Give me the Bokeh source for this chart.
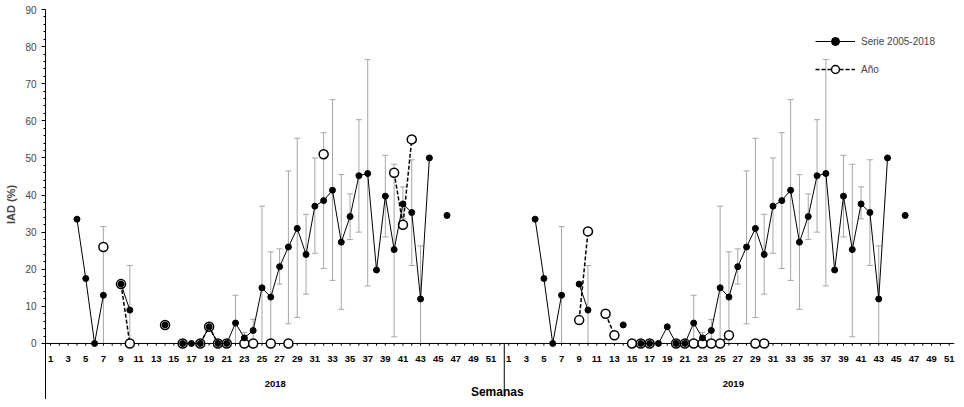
import numpy as np
from bokeh.plotting import figure
from bokeh.models import ColumnDataSource, Whisker, TeeHead, FixedTicker, Legend, LegendItem
from bokeh.core.properties import value
from bokeh.embed import file_html
from bokeh.resources import INLINE

weeks = list(range(1, 53))
# Serie 2005-2018 (mean) by week; missing = no data
serie = {4:33.5,5:17.5,6:0,7:13,9:16,10:9,14:5,16:0,17:0,18:0,19:4.5,20:0,21:0,22:5.5,
         23:1.5,24:3.5,25:15,26:12.5,27:20.7,28:26,29:31,30:24,31:37,32:38.5,33:41.3,
         34:27.3,35:34.2,36:45.2,37:45.8,38:19.8,39:39.7,40:25.3,41:37.6,42:35.3,43:12,
         44:50,46:34.5}
err_low = {7:0,10:0,22:0,23:0,24:0,25:0,26:0,27:16,28:5.3,29:7,30:13.3,31:24.3,32:20.2,
           33:17,34:9.2,35:28,36:30,37:15.5,39:28.7,40:1.8,41:33.6,42:21,43:0}
err_high = {7:31.5,10:21,22:13,23:3,24:6.5,25:37,26:24.7,27:25.5,28:46.5,29:55.3,30:34.8,
            31:50,32:56.8,33:65.7,34:45.5,35:40.3,36:60.3,37:76.5,39:50.7,40:48.3,41:42.2,
            42:49.5,43:26.3}
ano2018 = {7:26,9:16,10:0,14:5,16:0,18:0,19:4.5,20:0,21:0,23:0,24:0,26:0,28:0,32:51,
           40:46,41:32,42:55}
ano2019 = {9:6.3,10:30.2,12:8,13:2.2,15:0,16:0,17:0,20:0,21:0,22:0,23:0,24:0,25:0,26:2.2,
           29:0,30:0}
years = ["2018", "2019"]

def arr(d):
    return np.array([d.get(w, np.nan) for w in weeks], dtype=float)

xs = np.arange(1, 105, dtype=float)
s = arr(serie)
serie_y = np.concatenate([s, s])
a_y = np.concatenate([arr(ano2018), arr(ano2019)])
lo = np.concatenate([arr(err_low)] * 2)
hi = np.concatenate([arr(err_high)] * 2)

p = figure(width=956, height=399, x_range=(0.43, 103.6), y_range=(-15.1, 90),
           output_backend="svg", toolbar_location=None,
           min_border_left=45, min_border_right=2, min_border_top=9, min_border_bottom=0)
p.xaxis.visible = False
p.xgrid.visible = False
p.ygrid.visible = False
p.outline_line_color = None
p.background_fill_color = "white"

ya = p.yaxis[0]
ya.ticker = FixedTicker(ticks=list(range(0, 91, 10)), minor_ticks=list(range(0, 91, 2)))
ya.axis_label = "IAD (%)"
ya.axis_label_text_font = "Liberation Sans"
ya.axis_label_text_font_style = "bold"
ya.axis_label_text_font_size = "11px"
ya.major_label_text_font = "Liberation Sans"
ya.major_label_text_font_size = "10px"
ya.major_tick_in = 0
ya.major_tick_out = 4
ya.minor_tick_in = 0
ya.minor_tick_out = 2
ya.axis_line_color = "black"

# x axis built inside frame
p.segment(x0=[0.43], y0=[0], x1=[103.6], y1=[0], color="black", line_width=1)
p.segment(x0=xs, y0=np.zeros(104), x1=xs, y1=np.full(104, -0.6), color="black")
p.segment(x0=[52.5], y0=[0], x1=[52.5], y1=[-14.3], color="black")
labx = [x for x in xs if int(x - 1) % 52 % 2 == 0 and (int(x - 1) % 52) < 51]
labt = [str(int(x - 1) % 52 + 1) for x in labx]
p.text(x=labx, y=[-4.3] * len(labx), text=labt, text_align="center", text_baseline="middle",
       text_font=value("Liberation Sans"), text_font_style="bold", text_font_size="9.5px")
p.text(x=[26.5, 78.5], y=[-11, -11], text=years, text_align="center", text_baseline="middle",
       text_font=value("Liberation Sans"), text_font_style="bold", text_font_size="9.5px")
p.text(x=[51.7], y=[-13.2], text=["Semanas"], text_align="center", text_baseline="middle",
       text_font=value("Liberation Sans"), text_font_style="bold", text_font_size="12px")

wsrc = ColumnDataSource(dict(x=xs, lo=lo, hi=hi))
p.add_layout(Whisker(source=wsrc, base="x", lower="lo", upper="hi", line_color="#a6a6a6",
                     line_width=1,
                     lower_head=TeeHead(size=6, line_color="#a6a6a6"),
                     upper_head=TeeHead(size=6, line_color="#a6a6a6")))

al = p.line(xs, a_y, color="black", line_dash="4 2", line_width=1.5)
ac = p.scatter(xs, a_y, size=9, fill_color="white", line_color="black", line_width=1.5)
sl = p.line(xs, serie_y, color="black", line_width=1)
sc = p.scatter(xs, serie_y, size=6, color="black")

leg = Legend(items=[LegendItem(label="Serie 2005-2018", renderers=[sl, sc]),
                    LegendItem(label="Año", renderers=[al, ac])],
             location=(770, 320), border_line_color=None, background_fill_alpha=0,
             label_text_font="Liberation Sans", label_text_font_size="10px",
             glyph_width=40, spacing=8, label_standoff=6, padding=4, margin=0)
p.add_layout(leg)

open("out.html", "w").write(file_html(p, INLINE))
